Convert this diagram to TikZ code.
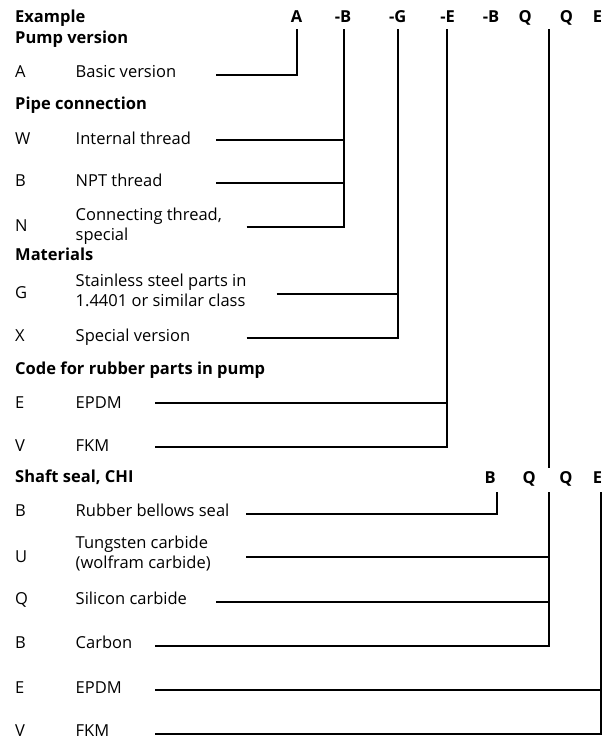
\documentclass[tikz,border=0pt]{standalone}
\usepackage{fontspec}
\setmainfont{Open Sans}
\begin{document}
\begin{tikzpicture}[x=1pt,y=-1pt,
  txt/.style={anchor=base west,inner sep=0pt,font=\fontsize{16.5}{20}\selectfont},
  hd/.style={anchor=base west,inner sep=0pt,font=\fontsize{16.5}{20}\selectfont\bfseries},
  ltr/.style={inner sep=0pt,font=\fontsize{16.5}{20}\selectfont\bfseries},
  conn/.style={line width=1.7pt}]
\useasboundingbox (0,0) rectangle (612,741);

% ---------- header row ----------
\node[hd] (ex) at (15,23) {Example};
\node[ltr,anchor=base] (hA) at (296.5,23) {A};
\node[ltr,anchor=base east] (hB) at (351.5,23) {-B};
\node[ltr,anchor=base east] (hG) at (406.5,23) {-G};
\node[ltr,anchor=base east] (hE) at (455,23) {-E};
\node[ltr,anchor=base east] (hB2) at (499.5,23) {-B};
\node[ltr,anchor=base] (hQ) at (525.2,23) {Q};
\node[ltr,anchor=base] (hQ2) at (566.5,23) {Q};
\node[ltr,anchor=base west] (hE2) at (592.7,23) {E};

\coordinate (tA) at (296.7,29.5);
\coordinate (tB) at (343.7,29.5);
\coordinate (tG) at (397.7,29.5);
\coordinate (tE) at (446.7,29.5);
\coordinate (tQ) at (548.7,29.5);
\coordinate (bQ) at (548.7,468.3);

% ---------- Pump version ----------
\node[hd] (pv) at (15,43.5) {Pump version};
\node[txt] (cA) at (15,77.5) {A};
\node[txt] (dA) at (75.5,77.5) {Basic version};
\coordinate (sA) at (216,75);

% ---------- Pipe connection ----------
\node[hd] (pc) at (15,110) {Pipe connection};
\node[txt] (cW) at (15,144) {W};
\node[txt] (dW) at (75.5,144) {Internal thread};
\coordinate (sW) at (216,140);
\node[txt] (cB) at (15,186.8) {B};
\node[txt] (dB) at (75.5,186.8) {NPT thread};
\coordinate (sB) at (216,182.7);
\node[txt] (cN) at (15,231.7) {N};
\node[txt] (dN1) at (75.5,220.5) {Connecting thread,};
\node[txt] (dN2) at (75.5,240.3) {special};
\coordinate (sN) at (246.7,227.3);

% ---------- Materials ----------
\node[hd] (mt) at (15,260) {Materials};
\node[txt] (cG) at (15,298.3) {G};
\node[txt] (dG1) at (75.5,286.8) {Stainless steel parts in};
\node[txt] (dG2) at (75.5,306.3) {1.4401 or similar class};
\coordinate (sG) at (276.7,293.8);
\node[txt] (cX) at (15,341.7) {X};
\node[txt] (dX) at (75.5,341.7) {Special version};
\coordinate (sX) at (246.7,338.3);

% ---------- Rubber parts ----------
\node[hd] (rp) at (15,374) {Code for rubber parts in pump};
\node[txt] (cE) at (15,408.5) {E};
\node[txt] (dE) at (75.5,408.5) {EPDM};
\coordinate (sE) at (155,402.7);
\node[txt] (cV) at (15,451.8) {V};
\node[txt] (dV) at (75.5,451.8) {FKM};
\coordinate (sV) at (155,446.7);

% ---------- Shaft seal ----------
\node[hd] (ss) at (15,482.5) {Shaft seal, CHI};
\node[ltr,anchor=base west] (sB1) at (484.5,483.3) {B};
\node[ltr,anchor=base] (sQ1) at (529.3,483.3) {Q};
\node[ltr,anchor=base] (sQ2) at (566,483.3) {Q};
\node[ltr,anchor=base west] (sE1) at (592.7,483.3) {E};
\coordinate (uB) at (497,491.7);
\coordinate (uQ) at (548.7,491.7);
\coordinate (uE) at (601,491.7);

\node[txt] (cRB) at (15,516.8) {B};
\node[txt] (dRB) at (75.5,516.8) {Rubber bellows seal};
\coordinate (sRB) at (246,514);
\node[txt] (cU) at (15,562) {U};
\node[txt] (dU1) at (75.5,548.5) {Tungsten carbide};
\node[txt] (dU2) at (75.5,568.3) {(wolfram carbide)};
\coordinate (sU) at (246,557.3);
\node[txt] (cQ) at (15,604.8) {Q};
\node[txt] (dQ) at (75.5,604.8) {Silicon carbide};
\coordinate (sQ) at (216,601.7);
\node[txt] (cC) at (15,648.5) {B};
\node[txt] (dC) at (75.5,648.5) {Carbon};
\coordinate (sC) at (155,646);
\node[txt] (cE2) at (15,693.5) {E};
\node[txt] (dE2) at (75.5,693.5) {EPDM};
\coordinate (sE2) at (155,690);
\node[txt] (cV2) at (15,736.8) {V};
\node[txt] (dV2) at (75.5,736.8) {FKM};
\coordinate (sV2) at (155,734);

% ---------- connectors ----------
\draw[conn] (sA) -| (tA);
\draw[conn] (sN) -| (tB);
\draw[conn] (sW) -- (sW -| tB);
\draw[conn] (sB) -- (sB -| tB);
\draw[conn] (sX) -| (tG);
\draw[conn] (sG) -- (sG -| tG);
\draw[conn] (sV) -| (tE);
\draw[conn] (sE) -- (sE -| tE);
\draw[conn] (tQ) -- (bQ);
\draw[conn] (sRB) -| (uB);
\draw[conn] (sC) -| (uQ);
\draw[conn] (sU) -- (sU -| uQ);
\draw[conn] (sQ) -- (sQ -| uQ);
\draw[conn] (sV2) -| (uE);
\draw[conn] (sE2) -- (sE2 -| uE);
\end{tikzpicture}
\end{document}
